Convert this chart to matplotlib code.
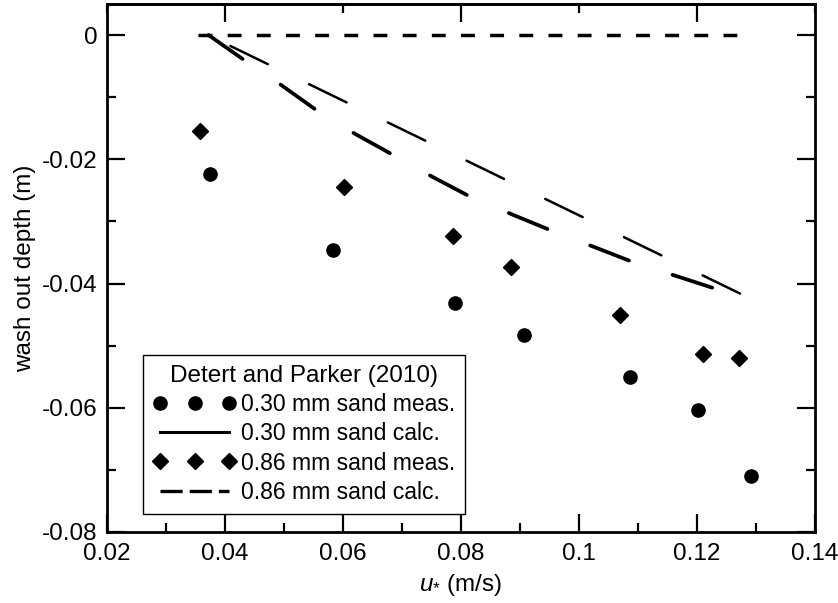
import matplotlib
matplotlib.use('Agg')
import matplotlib.pyplot as plt
from matplotlib.lines import Line2D
from matplotlib.ticker import MultipleLocator, FixedLocator, FixedFormatter

plt.rcParams['font.family'] = ['Liberation Sans', 'DejaVu Sans']
plt.rcParams['axes.unicode_minus'] = False
plt.rcParams['lines.scale_dashes'] = False
plt.rcParams['mathtext.fontset'] = 'custom'
plt.rcParams['mathtext.it'] = 'Liberation Sans:italic'
plt.rcParams['mathtext.rm'] = 'Liberation Sans'

# ---- data ----
u_030_meas = [0.0374, 0.0583, 0.0790, 0.0907, 0.1086, 0.1201, 0.1292]
d_030_meas = [-0.0224, -0.0346, -0.0431, -0.0483, -0.0550, -0.0604, -0.0710]
u_086_meas = [0.0358, 0.0602, 0.0786, 0.0884, 0.1069, 0.1210, 0.1271]
d_086_meas = [-0.0155, -0.0244, -0.0324, -0.0373, -0.0451, -0.0513, -0.0520]
u_030_calc = [0.0372, 0.0432, 0.0496, 0.0555, 0.0622, 0.0683, 0.0751, 0.0813,
              0.0887, 0.0951, 0.1025, 0.1090, 0.1165, 0.1233]
d_030_calc = [0.0, -0.0040, -0.0081, -0.0121, -0.0160, -0.0192, -0.0228, -0.0259,
              -0.0289, -0.0314, -0.0341, -0.0365, -0.0388, -0.0409]
u_086_calc = [0.0354, 0.1273]
d_086_calc = [0.0, 0.0]
u_lin_calc = [0.0371, 0.1279]
d_lin_calc = [0.0, -0.0419]

xticks = [0.02, 0.04, 0.06, 0.08, 0.10, 0.12, 0.14]
xticklabels = ['0.02', '0.04', '0.06', '0.08', '0.1', '0.12', '0.14']
yticks = [0.0, -0.02, -0.04, -0.06, -0.08]
yticklabels = ['0', '-0.02', '-0.04', '-0.06', '-0.08']

legend_title = 'Detert and Parker (2010)'
legend_labels = ['0.30 mm sand meas.', '0.30 mm sand calc.',
                 '0.86 mm sand meas.', '0.86 mm sand calc.']

FS = 17.5

# ---- figure ----
fig = plt.figure(figsize=(8.38, 6.03), dpi=100)
ax = fig.add_axes([0.1277, 0.1178, 0.8449, 0.8756])

ax.plot(u_086_calc, d_086_calc, color='k', lw=2.5, ls=(0, (10, 11)))
ax.plot(u_030_calc, d_030_calc, color='k', lw=2.7, ls=(0, (30, 33)), dash_capstyle='round')
ax.plot(u_lin_calc, d_lin_calc, color='k', lw=1.8, ls=(45, (30, 33)), dash_capstyle='round')
ax.plot(u_030_meas, d_030_meas, ls='none', marker='o', ms=9.5, color='k')
ax.plot(u_086_meas, d_086_meas, ls='none', marker='D', ms=8.5, color='k')

ax.set_xlim(0.02, 0.14)
ax.set_ylim(-0.08, 0.005)

ax.xaxis.set_major_locator(FixedLocator(xticks))
ax.xaxis.set_major_formatter(FixedFormatter(xticklabels))
ax.xaxis.set_minor_locator(MultipleLocator(0.01))
ax.yaxis.set_major_locator(FixedLocator(yticks))
ax.yaxis.set_major_formatter(FixedFormatter(yticklabels))
ax.yaxis.set_minor_locator(MultipleLocator(0.01))

ax.tick_params(which='major', direction='in', length=13, width=1.6, labelsize=FS,
               top=False, right=True)
ax.tick_params(which='minor', direction='in', length=6.5, width=1.6, top=False, right=True)
ax.tick_params(axis='x', which='major', pad=8)
ax.tick_params(axis='y', which='major', pad=7)

sec = ax.secondary_xaxis('top')
sec.xaxis.set_major_locator(MultipleLocator(0.04))
sec.xaxis.set_minor_locator(MultipleLocator(0.02))
sec.tick_params(which='major', direction='in', length=13, width=1.6, labeltop=False)
sec.tick_params(which='minor', direction='in', length=6.5, width=1.6)
sec.spines['top'].set_linewidth(2.0)

for s in ax.spines.values():
    s.set_linewidth(2.0)

ax.set_xlabel(r'$u_{*}$ (m/s)', fontsize=FS, labelpad=5)
ax.set_ylabel('wash out depth (m)', fontsize=FS, labelpad=4)

handles = [
    Line2D([], [], ls='none', marker='o', ms=9.5, color='k'),
    Line2D([], [], color='k', lw=2.2),
    Line2D([], [], ls='none', marker='D', ms=8.5, color='k'),
    Line2D([], [], color='k', lw=2.4, ls=(0, (16, 5))),
]
leg = ax.legend(handles, legend_labels, title=legend_title, loc='lower left',
                bbox_to_anchor=(0.051, 0.034), borderaxespad=0, numpoints=3,
                handlelength=3.6, handletextpad=0.2, fontsize=16.5, title_fontsize=FS,
                frameon=True, fancybox=False, edgecolor='k', framealpha=1,
                borderpad=0.45, labelspacing=0.27)
leg.get_frame().set_linewidth(1.0)

fig.savefig('out.png', dpi=100)
